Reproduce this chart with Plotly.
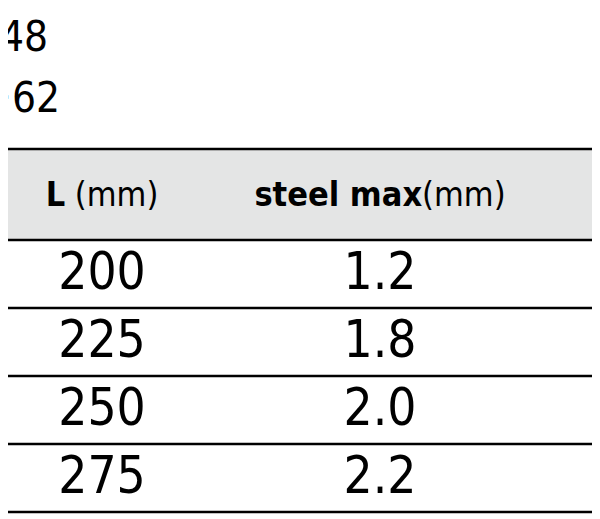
import plotly.graph_objects as go

# Data
top_labels = ['48', '~62']
header = ['<b>L</b> (mm)', '<b>steel max</b>(mm)']
lengths = ['200', '225', '250', '275']
steel_max = ['1.2', '1.8', '2.0', '2.2']

FONT = 'DejaVu Sans Condensed, Liberation Sans Narrow, Arial Narrow, Liberation Sans'
col_x = [102, 380]
head_top, head_bot, row_h = 149, 240, 68

fig = go.Figure()

# header band + rules
fig.add_shape(type='rect', x0=0, x1=620, y0=head_top, y1=head_bot,
              fillcolor='#e4e5e5', line_width=0, layer='below')
for y in [head_top, head_bot] + [head_bot + row_h * (i + 1) for i in range(len(lengths))]:
    fig.add_shape(type='line', x0=0, x1=620, y0=y, y1=y,
                  line=dict(color='black', width=2.5))

# cropped heading text
fig.add_trace(go.Scatter(x=[48, 60], y=[40, 101], mode='text', text=top_labels,
                         textposition='middle left',
                         textfont=dict(family=FONT, size=42, color='black'),
                         cliponaxis=False))

# header
fig.add_trace(go.Scatter(x=col_x, y=[(head_top + head_bot) / 2 + 3] * 2, mode='text',
                         text=header, textposition='middle center',
                         textfont=dict(family=FONT, size=34, color='black')))

# rows
row_y = [head_bot + row_h * (i + 0.5) + 2 for i in range(len(lengths))]
for cx, col in zip(col_x, [lengths, steel_max]):
    fig.add_trace(go.Scatter(x=[cx] * len(col), y=row_y, mode='text', text=col,
                             textposition='middle center',
                             textfont=dict(family=FONT, size=51, color='black')))

# page body has an 8px margin, so offset the ranges to keep screen == data coords
fig.update_layout(
    width=600, height=519, margin=dict(l=0, r=0, t=0, b=0),
    paper_bgcolor='white', plot_bgcolor='white', showlegend=False,
    xaxis=dict(range=[8, 608], visible=False, fixedrange=True),
    yaxis=dict(range=[527, 8], visible=False, fixedrange=True),
)
fig.write_html("out.html")
